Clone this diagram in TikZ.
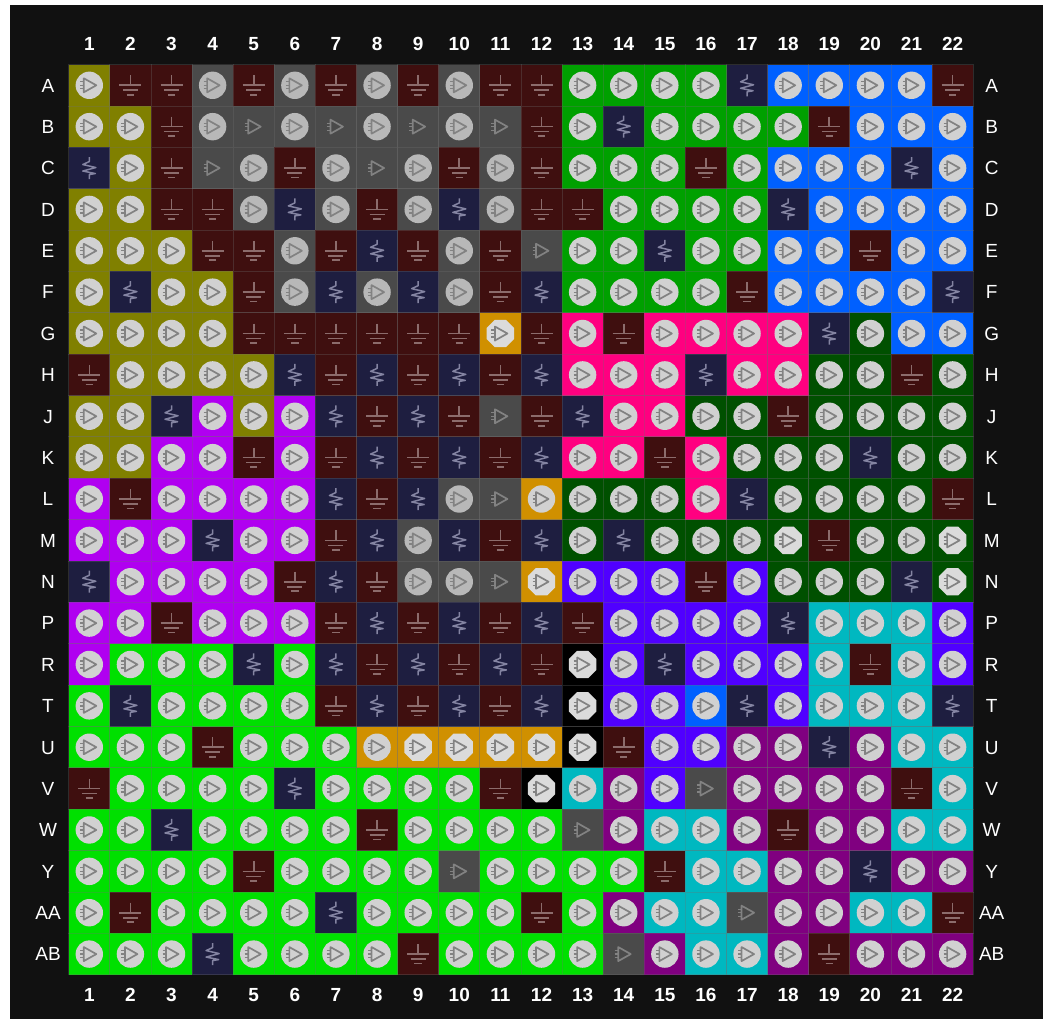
\documentclass[tikz,border=0pt]{standalone}
\usepackage{fontspec}
\setmainfont{Liberation Sans}
\definecolor{cellO}{HTML}{808000}
\definecolor{cellG}{HTML}{3F0F0F}
\definecolor{cellV}{HTML}{1E1E40}
\definecolor{cellD}{HTML}{4A4A4A}
\definecolor{celld}{HTML}{4A4A4A}
\definecolor{cellg}{HTML}{00A000}
\definecolor{cellb}{HTML}{0060FF}
\definecolor{cellm}{HTML}{FF0080}
\definecolor{celle}{HTML}{005000}
\definecolor{cellE}{HTML}{005000}
\definecolor{cellp}{HTML}{B000F0}
\definecolor{celll}{HTML}{00E000}
\definecolor{cello}{HTML}{D09000}
\definecolor{cellQ}{HTML}{D09000}
\definecolor{cellk}{HTML}{000000}
\definecolor{celli}{HTML}{5000FF}
\definecolor{cellc}{HTML}{00B8C0}
\definecolor{cellu}{HTML}{800080}
\definecolor{panelbg}{HTML}{111111}
\definecolor{gndline}{HTML}{8C6C6C}
\definecolor{vccline}{HTML}{8484A2}
\definecolor{diodeline}{HTML}{828282}
\definecolor{gridline}{HTML}{707070}
\tikzset{
  pincell/.style={draw=gridline,draw opacity=.3,line width=.9pt,minimum width=41.11pt,minimum height=41.37pt,inner sep=0pt,outer sep=0pt,shape=rectangle},
  axislabel/.style={text=white,font=\fontsize{19}{19}\selectfont,inner sep=0pt,anchor=base},
  collabel/.style={text=white,font=\fontsize{19}{19}\selectfont\bfseries,inner sep=0pt,anchor=base},
  diode/.style={draw=diodeline,line width=1.7pt,line join=round},
  gnd/.style={draw=gndline,line width=1.6pt},
  vcc/.style={draw=vccline,line width=1.5pt,line join=round},
}
\newcommand\DiodeMark{%
  \draw[diode] (-5.5,-7) -- (7,0) -- (-5.5,7) -- cycle;
  \draw[diode,line width=1.3pt] (-9,-3.5) -- (-5.5,-3.5) (-9,0) -- (-5.5,0) (-9,3.5) -- (-5.5,3.5);}
\newcommand\IconRound{\fill[fill=white!82!black] (0,0) circle[radius=13.7];\DiodeMark}
\newcommand\IconDim{\fill[fill=white!72!black] (0,0) circle[radius=13.7];\DiodeMark}
\newcommand\IconOct{\fill[fill=white!86!black] (-5.6,-13.7) -- (5.6,-13.7) -- (13.7,-5.6) -- (13.7,5.6) -- (5.6,13.7) -- (-5.6,13.7) -- (-13.7,5.6) -- (-13.7,-5.6) -- cycle;\DiodeMark}
\newcommand\IconBare{\DiodeMark}
\newcommand\IconGnd{\draw[gnd] (0,-10) -- (0,0) (-11,0) -- (11,0) (-7.5,5) -- (7.5,5) (-3.7,9.5) -- (3.7,9.5);}
\newcommand\IconVcc{\draw[vcc] (0,-11) -- (0,-6.5) -- (-6.5,-3.5) -- (6.5,-0.5) -- (-6.5,3) -- (6,5.5) -- (0,6.5) -- (0,11);}
\newcommand\kindO{\IconRound}\newcommand\kindg{\IconRound}\newcommand\kindb{\IconRound}
\newcommand\kindm{\IconRound}\newcommand\kinde{\IconRound}\newcommand\kindp{\IconRound}
\newcommand\kindl{\IconRound}\newcommand\kindo{\IconRound}\newcommand\kindi{\IconRound}
\newcommand\kindc{\IconRound}\newcommand\kindu{\IconRound}
\newcommand\kindE{\IconOct}\newcommand\kindQ{\IconOct}\newcommand\kindk{\IconOct}
\newcommand\kindD{\IconDim}\newcommand\kindd{\IconBare}
\newcommand\kindG{\IconGnd}\newcommand\kindV{\IconVcc}
\begin{document}
\begin{tikzpicture}[x=1pt,y=-1pt]
\useasboundingbox (0,0) rectangle (1043,1019);
\fill[white] (0,0) rectangle (1043,1019);
\fill[panelbg] (10,5) rectangle (1043,1019);
\foreach \lab/\cells [count=\r] in {
 A/{O,G,G,D,G,D,G,D,G,D,G,G,g,g,g,g,V,b,b,b,b,G},
 B/{O,O,G,D,d,D,d,D,d,D,d,G,g,V,g,g,g,g,G,b,b,b},
 C/{V,O,G,d,D,G,D,d,D,G,D,G,g,g,g,G,g,b,b,b,V,b},
 D/{O,O,G,G,D,V,D,G,D,V,D,G,G,g,g,g,g,V,b,b,b,b},
 E/{O,O,O,G,G,D,G,V,G,D,G,d,g,g,V,g,g,b,b,G,b,b},
 F/{O,V,O,O,G,D,V,D,V,D,G,V,g,g,g,g,G,b,b,b,b,V},
 G/{O,O,O,O,G,G,G,G,G,G,Q,G,m,G,m,m,m,m,V,e,b,b},
 H/{G,O,O,O,O,V,G,V,G,V,G,V,m,m,m,V,m,m,e,e,G,e},
 J/{O,O,V,p,O,p,V,G,V,G,d,G,V,m,m,e,e,G,e,e,e,e},
 K/{O,O,p,p,G,p,G,V,G,V,G,V,m,m,G,m,e,e,e,V,e,e},
 L/{p,G,p,p,p,p,V,G,V,D,d,o,e,e,e,m,V,e,e,e,e,G},
 M/{p,p,p,V,p,p,G,V,D,V,G,V,e,V,e,e,e,E,G,e,e,E},
 N/{V,p,p,p,p,G,V,G,D,D,d,Q,i,i,i,G,i,e,e,e,V,E},
 P/{p,p,G,p,p,p,G,V,G,V,G,V,G,i,i,i,i,V,c,c,c,i},
 R/{p,l,l,l,V,l,V,G,V,G,V,G,k,i,V,i,i,i,c,G,c,i},
 T/{l,V,l,l,l,l,G,V,G,V,G,V,k,i,i,b,V,i,c,c,c,V},
 U/{l,l,l,G,l,l,l,o,Q,Q,Q,Q,k,G,i,i,u,u,V,u,c,c},
 V/{G,l,l,l,l,V,l,l,l,l,G,k,c,u,i,d,u,u,u,u,G,c},
 W/{l,l,V,l,l,l,l,G,l,l,l,l,d,u,c,c,u,G,u,u,c,c},
 Y/{l,l,l,l,G,l,l,l,l,d,l,l,l,l,G,c,c,u,u,V,u,u},
 AA/{l,G,l,l,l,l,V,l,l,l,l,G,l,u,c,c,d,u,u,c,c,G},
 AB/{l,l,l,V,l,l,l,l,G,l,l,l,l,d,u,c,c,u,G,u,u,u}} {
  \pgfmathsetmacro\yy{85.3+41.37*(\r-1)}
  \pgfmathsetmacro\yb{\yy+6.8}
  \node[axislabel] (left\r) at (48,\yb) {\lab};
  \node[axislabel] (right\r) at (991.7,\yb) {\lab};
  \foreach \code [count=\c] in \cells {
    \pgfmathsetmacro\xx{89.3+41.11*(\c-1)}
    \node[pincell,fill=cell\code] (pin\r-\c) at (\xx,\yy) {};
    \begin{scope}[shift={(pin\r-\c.center)}]
      \csname kind\code\endcsname
    \end{scope}
  }
}
\foreach \c in {1,...,22} {
  \pgfmathsetmacro\xx{89.3+41.11*(\c-1)}
  \node[collabel] (top\c) at (\xx,50.8) {\c};
  \node[collabel] (bottom\c) at (\xx,1001.3) {\c};
}
\end{tikzpicture}
\end{document}
